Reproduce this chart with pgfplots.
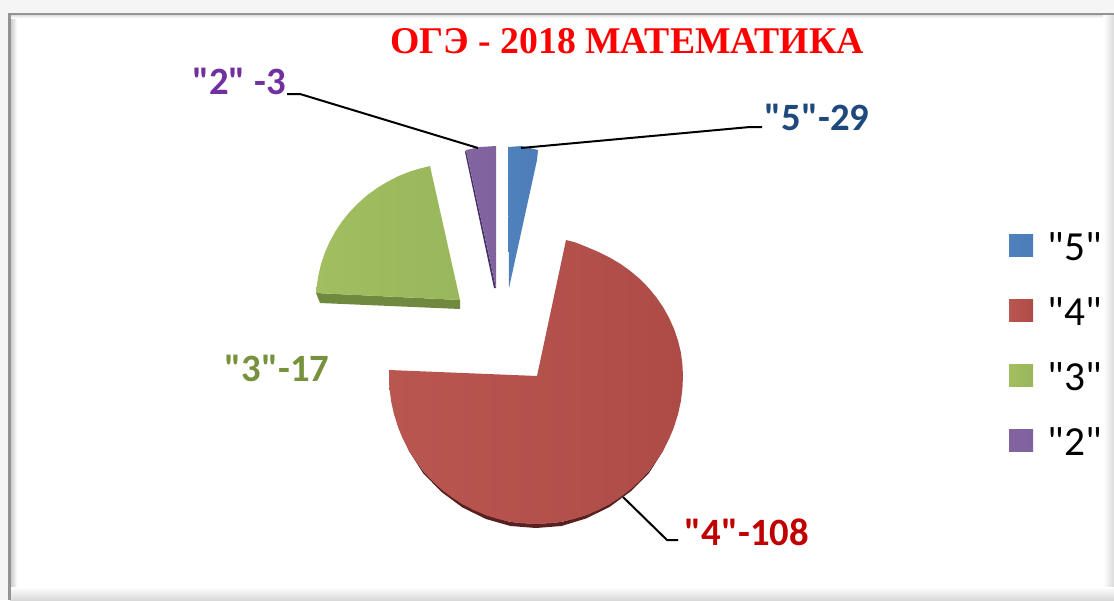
\documentclass[border=0pt]{standalone}
\usepackage{fontspec}
\setmainfont{Carlito}[Ligatures=TeXOff]
\newfontfamily\titlefont{Liberation Serif}
\usepackage{pgfplots}
\pgfplotsset{compat=1.18}
\definecolor{lblblue}{HTML}{1F497D}
\definecolor{lblred}{HTML}{C00000}
\definecolor{lblgreen}{HTML}{76923C}
\definecolor{lblpurple}{HTML}{7030A0}
\begin{document}
\begin{tikzpicture}
\begin{axis}[
  scale only axis, width=835.5pt, height=450pt,
  xmin=0, xmax=1114, ymin=0, ymax=600,
  y dir=reverse, hide axis, clip=true,
  area legend,
  legend image code/.code={\path[#1] (0pt,3pt) rectangle (18pt,19.5pt);},
  legend style={at={(axis cs:1009,231)}, anchor=north west, draw=none, fill=none,
    inner sep=0pt, outer sep=0pt,
    font=\fontsize{31}{31}\selectfont,
    row sep=26.9pt, column sep=11pt,
    nodes={inner sep=0pt, text height=22pt, text depth=0pt, anchor=base west}},
]
% frame
\fill[gray!8] (axis cs:0,0) rectangle (axis cs:1114,600);
\fill[white] (axis cs:10,14) rectangle (axis cs:1114,600);
\shade[left color=gray!45, right color=white] (axis cs:10,14) rectangle (axis cs:17,600);
\shade[top color=gray!35, bottom color=white] (axis cs:10,14) rectangle (axis cs:1114,18);
\shade[left color=white, right color=gray!28] (axis cs:1103,14) rectangle (axis cs:1114,600);
\shade[top color=white, bottom color=gray!30] (axis cs:10,587) rectangle (axis cs:1114,600);
\draw[gray!85, line width=2.2pt] (axis cs:9.5,600) -- (axis cs:9.5,14) -- (axis cs:1114,14);

% side faces
\addplot[forget plot, fill={rgb,255:red,88;green,32;blue,32}, draw=none] coordinates {
  (674,427)(663,450)(649,471)(630.5,489)(609.5,504)(586,515)(561.5,522)(536,524)
  (510.5,522)(486,515)(462.5,504)(441.5,489)(423,471)(409,450)(398,427)
  (409,451)(423,473)(441.5,492)(462.5,507.5)(486,519)(510.5,526)(536,528)
  (561.5,526)(586,518.5)(609.5,507)(630.5,491.5)(649,473)(663,451)} -- cycle;
\addplot[forget plot, fill={rgb,255:red,111;green,138;blue,62}, draw=none] coordinates {
  (316,293)(320,303)(460,309)(460,300)} -- cycle;
\addplot[forget plot, fill={rgb,255:red,70;green,50;blue,100}, draw=none] coordinates {
  (465,152)(494,288)(496,288)(466,150)} -- cycle;

% slices
\addplot[draw=none, left color={rgb,255:red,79;green,129;blue,189}, right color={rgb,255:red,76;green,125;blue,184}]
  coordinates {(508,147)(522,146)(538,150)(537,160)(509,288)} -- cycle;
\addplot[draw=none, left color={rgb,255:red,186;green,86;blue,80}, right color={rgb,255:red,173;green,76;blue,71}]
  coordinates {(537,376)(566,240)(575,242.3)(586.3,246.8)(598.1,251.8)(609.5,257.4)(620.3,263.8)
  (630.5,271.1)(640,279.1)(648.6,287.9)(656.4,297.4)(663.3,307.5)(669.2,318.1)(674.1,329.1)
  (678,340.5)(680.8,352.2)(682.4,364)(683,376)(682.4,388.9)(680.8,401.7)(678,414.3)(674.1,426.6)
  (669.2,438.5)(663.3,450)(656.4,460.9)(648.6,471.1)(640,480.7)(630.5,489.4)(620.3,497.2)
  (609.5,504.2)(598.1,510.1)(586.3,515.1)(574,519)(561.5,521.8)(548.8,523.4)(536,524)
  (523.2,523.4)(510.5,521.8)(498,519)(485.7,515.1)(473.9,510.1)(462.5,504.2)(451.7,497.2)
  (441.5,489.4)(432,480.7)(423.4,471.1)(415.6,460.9)(408.7,450)(402.8,438.5)(397.9,426.6)
  (394,414.3)(391.2,401.7)(389.6,388.9)(389,376)(389,370)} -- cycle;
\addplot[draw=none, left color={rgb,255:red,161;green,190;blue,96}, right color={rgb,255:red,153;green,183;blue,91}]
  coordinates {(460,300)(430,166)(420,168.5)(410.7,171.3)(399.1,175.8)(388,181.4)(377.4,187.8)
  (367.4,195)(358.2,203.1)(349.7,211.9)(342,221.4)(335.3,231.5)(329.5,242.1)(324.7,253.1)
  (320.9,264.5)(318.2,276.2)(316.5,288)(316,293)} -- cycle;
\addplot[draw=none, left color={rgb,255:red,130;green,100;blue,160}, right color={rgb,255:red,127;green,98;blue,158}]
  coordinates {(496,146)(480,147)(466,150)(496,288)} -- cycle;
\legend{"5","4","3","2"}

% leader lines
\addplot[forget plot, black, line width=1.5pt] coordinates {(287,94)(300,94)(478,148)};
\addplot[forget plot, black, line width=1.5pt] coordinates {(521,148)(750,127)(762,127)};
\addplot[forget plot, black, line width=1.5pt] coordinates {(623,497)(667,540)(678,540)};

% labels
\node[text=red, font=\titlefont\bfseries\fontsize{28.3}{28.3}\selectfont] at (axis cs:627,41) {ОГЭ - 2018 МАТЕМАТИКА};
\node[text=lblblue, font=\bfseries\fontsize{29}{29}\selectfont] at (axis cs:817,117) {"5"-29};
\node[text=lblred, font=\bfseries\fontsize{29}{29}\selectfont] at (axis cs:747,532) {"4"-108};
\node[text=lblgreen, font=\bfseries\fontsize{29}{29}\selectfont] at (axis cs:277,368) {"3"-17};
\node[text=lblpurple, font=\bfseries\fontsize{29}{29}\selectfont] at (axis cs:239,81) {"2" -3};
\end{axis}
\end{tikzpicture}
\end{document}
